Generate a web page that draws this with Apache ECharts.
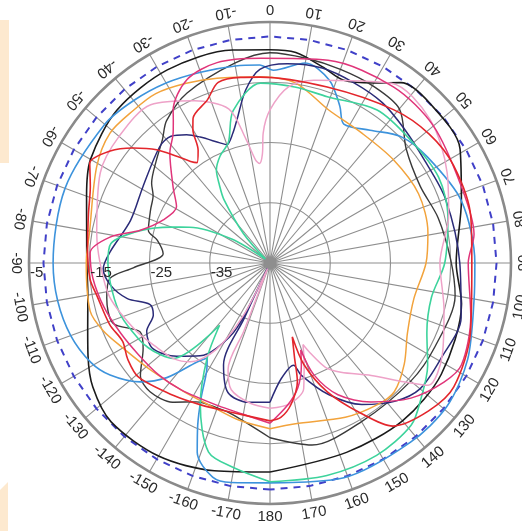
<!DOCTYPE html>
<html><head><meta charset="utf-8">
<script src="https://cdn.jsdelivr.net/npm/echarts@6/dist/echarts.min.js"></script>
<style>html,body{margin:0;padding:0;background:#fff}#c{width:522px;height:531px}</style>
</head><body><div id="c"></div>
<script>
// angle tick labels (degrees, 0 at top, clockwise positive)
const angleLabels = [-170,-160,-150,-140,-130,-120,-110,-100,-90,-80,-70,-60,-50,-40,-30,-20,-10,0,10,20,30,40,50,60,70,80,90,100,110,120,130,140,150,160,170,180];
// radial tick labels (dB)
const radialLabels = [-35,-25,-15,-5];
// dashed reference level (dB)
const refLevel = -7.4;
const refAngles = [-180,-170,-160,-150,-140,-130,-120,-110,-100,-90,-80,-70,-60,-50,-40,-30,-20,-10,0,10,20,30,40,50,60,70,80,90,100,110,120,130,140,150,160,170,180];

// pattern traces: [angle, dB]
const blackOuter = [[-180,-10.3],[-165,-9.3],[-150,-8.0],[-135,-7.7],[-125,-9.1],[-117,-11.1],[-110,-12.8],[-100,-14.3],[-90,-14.6],[-80,-14.1],[-70,-12.6],[-60,-10.6],[-45,-9.1],[-28,-8.7],[-10,-9.1],[0,-9.6],[7,-9.8],[15,-11.3],[22,-12.3],[30,-10.5],[36,-8.0],[45,-7.5],[59,-8.2],[72,-11.6],[90,-14.1],[102,-12.5],[123,-11.1],[140,-10.8],[158,-11.1],[180,-10.3]];
const blackInner = [[-180,-16.0],[-166,-19.1],[-160,-19.4],[-152,-18.9],[-145,-16.8],[-137,-15.8],[-131,-16.5],[-124,-19.6],[-118,-20.6],[-111,-17.1],[-102,-17.3],[-95.5,-18.3],[-92,-22.3],[-85,-27.2],[-78.5,-25.9],[-75,-24.1],[-66,-23.3],[-60,-22.6],[-56,-21.3],[-48,-19.6],[-41,-17.8],[-36,-15.8],[-26,-13.6],[-10,-11.3],[0,-10.1],[10,-10.5],[20,-10.8],[30,-11.0],[40,-11.6],[50,-15.5],[63,-17.0],[75,-16.1],[89,-15.0],[100,-13.8],[117,-14.3],[130,-14.5],[150,-14.6],[167,-14.0],[180,-16.0]];
const lightBlue = [[-180,-8.5],[-170,-8.0],[-165,-8.2],[-159,-11.3],[-156,-15.5],[-153,-19.8],[-149.5,-24.3],[-146.5,-26.1],[-143.6,-24.6],[-138,-19.4],[-132.5,-15.8],[-125,-12.6],[-119,-11.0],[-110,-9.8],[-100,-9.2],[-90,-9.0],[-70,-8.8],[-50,-9.2],[-40,-9.8],[-30,-10.5],[-20,-11.3],[-10,-11.8],[-3,-12.1],[1,-13.0],[10,-11.3],[18,-13.1],[24,-16.5],[28,-18.9],[37,-17.4],[46,-14.8],[56,-13.5],[72,-11.6],[90,-11.0],[100,-10.6],[116,-8.5],[129,-7.2],[142,-7.2],[161,-7.3],[180,-8.5]];
const navy = [[-180,-21.9],[-171,-21.6],[-162,-22.4],[-155.5,-26.4],[-155,-35],[-154,-44],[-153,-32.9],[-148,-28.4],[-143,-25.7],[-135,-23.1],[-126,-20.9],[-119,-21.6],[-114,-23.8],[-109,-23.9],[-104,-20.6],[-98,-18.3],[-92,-17.3],[-86,-18.4],[-73,-20.8],[-59,-20.4],[-43.5,-18.4],[-38,-18.3],[-33,-19.6],[-29,-21.1],[-22.6,-23.4],[-20,-24.1],[-16,-22.6],[-13,-20.6],[-8,-16.0],[-3,-12.8],[5,-11.8],[15,-11.5],[25,-12.0],[35,-12.5],[45,-13.5],[56,-14.2],[70,-14.0],[90,-13.5],[106,-12.0],[119,-12.5],[130,-12.5],[138,-14.1],[147,-17.0],[156,-21.1],[164.5,-25.7],[167,-27.6],[174.5,-25.7],[180,-21.9]];
const red = [[-180,-18.8],[-165,-19.4],[-154,-18.8],[-144,-17.8],[-131,-16.1],[-124,-16.5],[-118,-17.3],[-111,-16.5],[-101,-15.8],[-95,-15.0],[-85,-14.6],[-75,-13.8],[-67,-12.6],[-61,-10.8],[-55,-12.6],[-50,-15.3],[-45,-18.4],[-41,-21.6],[-38,-23.6],[-36,-24.4],[-32.5,-22.8],[-30,-19.4],[-28,-17.8],[-21,-16.0],[-16,-13.8],[-9,-13.8],[-3,-14.1],[18,-14.3],[39,-12.3],[51,-11.0],[62,-10.5],[77,-10.8],[90,-11.5],[109,-9.8],[124,-8.2],[133,-9.0],[143,-11.1],[149,-16.0],[156,-21.6],[161.5,-27.2],[163.2,-32.2],[165.5,-28.7],[167,-24.8],[171.5,-21.3],[176,-19.3],[180,-18.8]];
const magenta = [[-180,-18.4],[-170,-19.5],[-160,-19.8],[-145,-19.3],[-135,-18.8],[-125,-18.4],[-115,-17.6],[-105,-16.5],[-95,-15.5],[-86.8,-15.1],[-80.8,-18.1],[-75.8,-22.8],[-68,-25.9],[-59,-26.9],[-52,-24.6],[-42.3,-20.3],[-36.7,-18.1],[-34,-16.3],[-32.4,-15.0],[-24.4,-11.6],[-14.8,-10.6],[-2.5,-11.0],[16,-10.0],[35,-9.3],[50,-9.6],[68,-10.8],[82,-10.8],[90,-12.1],[105,-10.5],[118,-9.0],[124.4,-10.0],[133.8,-12.6],[144,-16.5],[152.7,-20.4],[158.6,-25.1],[160.5,-29.7],[163,-27.2],[167.4,-23.8],[172.8,-21.3],[180,-18.4]];
const pink = [[-180,-20.9],[-172,-21.5],[-163,-23.0],[-158.5,-26.0],[-159,-33.0],[-156,-44.0],[-153,-35.0],[-148,-28.0],[-141,-23.9],[-135,-22.5],[-127,-21.6],[-117,-20.1],[-102,-17.8],[-90,-16.8],[-80,-15.8],[-62,-13.1],[-50,-12.3],[-37,-12.1],[-25,-15.3],[-15,-18.5],[-11,-24.0],[-8,-27.7],[-6,-28.4],[-4,-26.9],[-3,-23.4],[0,-19.6],[6,-15.6],[13.5,-13.8],[34,-9.0],[48,-9.3],[63,-12.0],[75,-14.3],[90,-16.8],[105,-15.1],[118,-12.6],[127.7,-11.8],[131.6,-15.3],[138,-19.9],[147,-23.4],[152,-25.4],[156,-28.7],[158,-30.4],[161,-27.6],[165,-23.4],[172,-21.4],[180,-20.9]];
const orange = [[-180,-17.5],[-169,-18.4],[-158,-19.3],[-146,-19.3],[-132,-18.4],[-120,-16.8],[-112,-15.1],[-105,-14.1],[-90,-14.5],[-80,-14.6],[-61,-12.1],[-51,-10.8],[-42,-11.0],[-34,-11.1],[-25,-12.1],[-16,-13.1],[-3,-14.1],[8,-14.8],[21,-17.8],[35,-18.6],[50,-18.3],[65,-17.8],[79,-18.3],[90,-19.1],[104,-20.4],[117,-19.4],[127,-17.1],[136,-15.3],[143,-15.5],[154,-16.5],[171,-18.0],[180,-17.5]];
const green = [[-180,-8.7],[-170,-10.5],[-162,-12.0],[-153.8,-18.8],[-146.5,-26.1],[-141,-31.7],[-134.5,-22.4],[-130,-21.3],[-125,-20.4],[-120,-19.8],[-110,-18.8],[-100,-18.4],[-90,-18.1],[-83,-18.4],[-76,-22.8],[-70,-27.6],[-66,-30.4],[-58,-37.5],[-50,-44.0],[-42,-38.4],[-36,-32.0],[-33,-29.6],[-30,-27.2],[-25,-25.4],[-19,-23.8],[-13.6,-19.0],[-3,-15.1],[8,-15.5],[19,-15.8],[35,-14.0],[49,-14.0],[63,-13.6],[75.5,-14.5],[90,-16.0],[102,-17.6],[114,-16.5],[123,-13.8],[132,-11.3],[139,-9.3],[151,-8.5],[165,-8.5],[180,-8.7]];

const traces = [
  {name:'black outer', pts:blackOuter, color:'#1b1b1b', width:1.6},
  {name:'black inner', pts:blackInner, color:'#3a3a3a', width:1.4},
  {name:'light blue', pts:lightBlue, color:'#3d93dc', width:1.6},
  {name:'navy', pts:navy, color:'#2b2b78', width:1.5},
  {name:'orange', pts:orange, color:'#f2a33c', width:1.5},
  {name:'green', pts:green, color:'#3dd39c', width:1.6},
  {name:'pink', pts:pink, color:'#eea2c8', width:1.5},
  {name:'magenta', pts:magenta, color:'#e0357a', width:1.5},
  {name:'red', pts:red, color:'#e3262c', width:1.6}
];

const chart = echarts.init(document.getElementById('c'), null, {renderer:'canvas'});
const series = [];
series.push({
  type:'line', coordinateSystem:'polar', name:'ref', silent:true, symbol:'none',
  data: refAngles.map(a => [refLevel, a]),
  lineStyle:{color:'#4040c8', width:2, type:[7,6]}, z:2
});
traces.forEach(t => series.push({
  type:'line', coordinateSystem:'polar', name:t.name, symbol:'none', smooth:0.3, silent:true,
  data: t.pts.map(p => [p[1], p[0]]),
  lineStyle:{color:t.color, width:t.width}, z:3
}));
series.push({
  type:'custom', coordinateSystem:'polar', clip:false, silent:true, z:5,
  data: angleLabels.map(a => [-5, a]),
  renderItem: function(params, api){
    const a = api.value(1);
    const p = api.coord([api.value(0), a]);
    const cs = params.coordSys;
    const dx = p[0]-cs.cx, dy = p[1]-cs.cy, len = Math.hypot(dx,dy) || 1;
    const R = len + 13;
    return {type:'text', x: cs.cx + dx/len*R, y: cs.cy + dy/len*R,
      rotation:(180 - a)*Math.PI/180,
      style:{text:String(a), align:'center', verticalAlign:'middle', fill:'#2a2a2a', fontSize:15, fontFamily:'Liberation Sans, Arial, sans-serif'}};
  }
});
series.push({
  type:'custom', coordinateSystem:'polar', clip:false, silent:true, z:5,
  data: radialLabels.map(v => [v, -90]),
  renderItem: function(params, api){
    const p = api.coord([api.value(0), api.value(1)]);
    return {type:'text', x:p[0]+1, y:p[1]+2,
      style:{text:String(api.value(0)), align:'left', verticalAlign:'top', fill:'#2a2a2a', fontSize:15, fontFamily:'Liberation Sans, Arial, sans-serif'}};
  }
});

chart.setOption({
  animation:false,
  backgroundColor:'#ffffff',
  graphic:[
    {type:'rect', shape:{x:0,y:20,width:9,height:143}, style:{fill:'#fde9cf'}, silent:true},
    {type:'polygon', shape:{points:[[0,490],[8,482],[8,531],[0,531]]}, style:{fill:'#fde9cf'}, silent:true}
  ],
  polar:{center:[270,263], radius:241},
  angleAxis:{type:'value', min:-180, max:180, interval:10, startAngle:270, clockwise:true,
    axisLine:{show:true, lineStyle:{color:'#8a8a8a', width:2.6}},
    axisTick:{show:false}, axisLabel:{show:false},
    splitLine:{show:true, lineStyle:{color:'#8e8e8e', width:1.1}}},
  radiusAxis:{type:'value', min:-45, max:-5, interval:10,
    axisLine:{show:false}, axisTick:{show:false}, axisLabel:{show:false},
    splitLine:{show:true, lineStyle:{color:'#8e8e8e', width:1.1}}},
  series: series
});
</script></body></html>
